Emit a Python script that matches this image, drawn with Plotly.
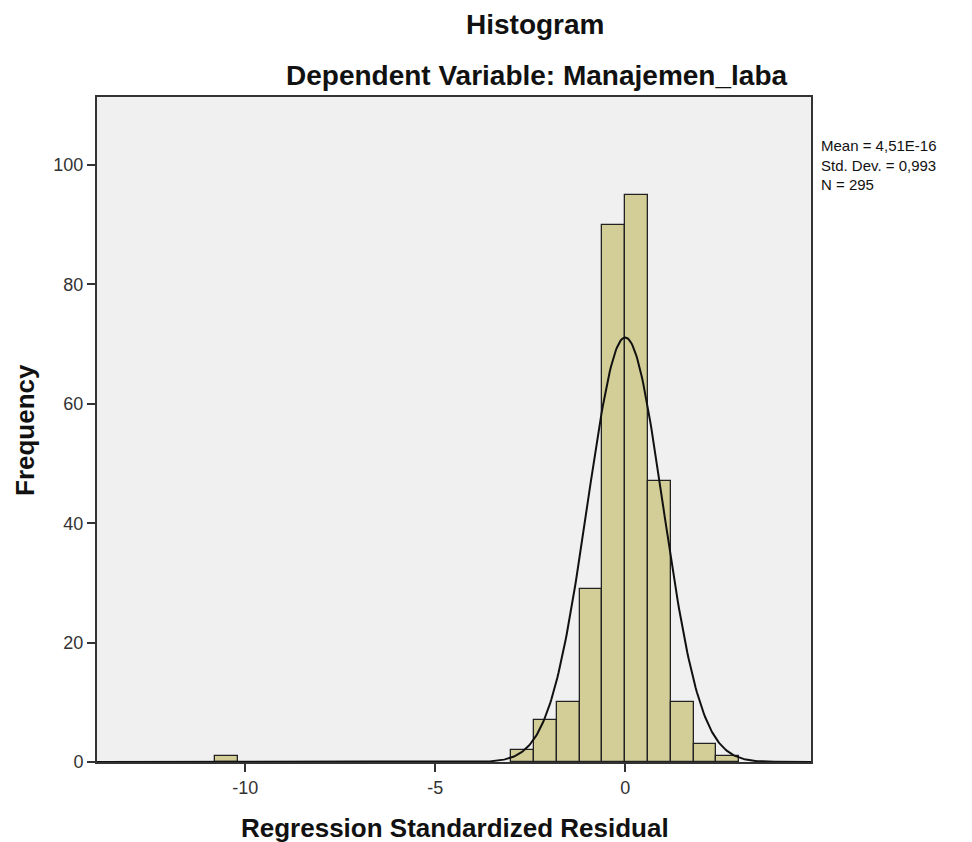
import numpy as np
import plotly.graph_objects as go

# Histogram bins (left edges) and counts
bin_left = [-10.8, -3.0, -2.4, -1.8, -1.2, -0.6, 0.0, 0.6, 1.2, 1.8, 2.4]
counts = [1, 2, 7, 10, 29, 90, 95, 47, 10, 3, 1]
bin_width = 0.6

# Summary stats (shown in the annotation)
mean_val = 4.51e-16
sd_val = 0.993
n_val = 295

x_ticks = [-10, -5, 0]
y_ticks = [0, 20, 40, 60, 80, 100]

centers = [b + bin_width / 2 for b in bin_left]

xs = np.linspace(-13.9, 4.9, 600)
ys = n_val * bin_width / (sd_val * np.sqrt(2 * np.pi)) * np.exp(-0.5 * ((xs - mean_val) / sd_val) ** 2)

# page has 8px body margin
W, H = 964, 834
L, R, T, B = 89, 161, 89, 80
pw = W - L - R
ph = H - T - B
# screen-coordinate plot box
PX0, PY0 = 97, 97


def px(x):
    return (x - PX0) / pw


def py(y):
    return 1 - (y - PY0) / ph


fig = go.Figure()
fig.add_trace(go.Bar(
    x=centers, y=counts, width=[bin_width] * len(counts),
    marker=dict(color="#d3ce97", line=dict(color="#222222", width=1.3)),
    hoverinfo="x+y", showlegend=False,
))
fig.add_trace(go.Scatter(
    x=xs, y=ys, mode="lines", line=dict(color="#111111", width=2), showlegend=False,
))

font_family = "Liberation Sans, Arial, sans-serif"

fig.update_layout(
    width=W, height=H,
    margin=dict(l=L, r=R, t=T, b=B, autoexpand=False),
    paper_bgcolor="white",
    plot_bgcolor="#f0f0f0",
    font=dict(family=font_family, color="#222222"),
    bargap=0,
    xaxis=dict(
        range=[-13.9, 4.89], tickvals=x_ticks, ticktext=[str(v) for v in x_ticks],
        ticks="outside", ticklen=8, tickwidth=2, tickcolor="#333333",
        tickfont=dict(size=18, color="#333333"),
        showgrid=False, zeroline=False, automargin=False,
        showline=True, linecolor="#333333", linewidth=2, mirror=True,
    ),
    yaxis=dict(
        range=[0, 111.4], tickvals=y_ticks,
        ticks="outside", ticklen=8, tickwidth=2, tickcolor="#333333",
        tickfont=dict(size=18, color="#333333"),
        showgrid=False, zeroline=False, automargin=False,
        showline=True, linecolor="#333333", linewidth=2, mirror=True,
    ),
    annotations=[
        dict(text="<b>Histogram</b>", xref="paper", yref="paper",
             x=px(535), y=py(24), xanchor="center", yanchor="middle",
             showarrow=False, font=dict(size=28, color="#111111")),
        dict(text="<b>Dependent Variable: Manajemen_laba</b>", xref="paper", yref="paper",
             x=px(536), y=py(76), xanchor="center", yanchor="middle",
             showarrow=False, font=dict(size=28, color="#111111")),
        dict(text="<b>Regression Standardized Residual</b>", xref="paper", yref="paper",
             x=px(455), y=py(828), xanchor="center", yanchor="middle",
             showarrow=False, font=dict(size=26, color="#111111")),
        dict(text="<b>Frequency</b>", xref="paper", yref="paper", textangle=-90,
             x=px(25), y=py(430), xanchor="center", yanchor="middle",
             showarrow=False, font=dict(size=26, color="#111111")),
        dict(text=f"Mean = 4,51E-16<br>Std. Dev. = 0,993<br>N = {n_val}", xref="paper", yref="paper",
             x=px(819), y=py(135), xanchor="left", yanchor="top",
             align="left", showarrow=False, font=dict(size=15, color="#111111")),
    ],
)

fig.write_html("out.html")
